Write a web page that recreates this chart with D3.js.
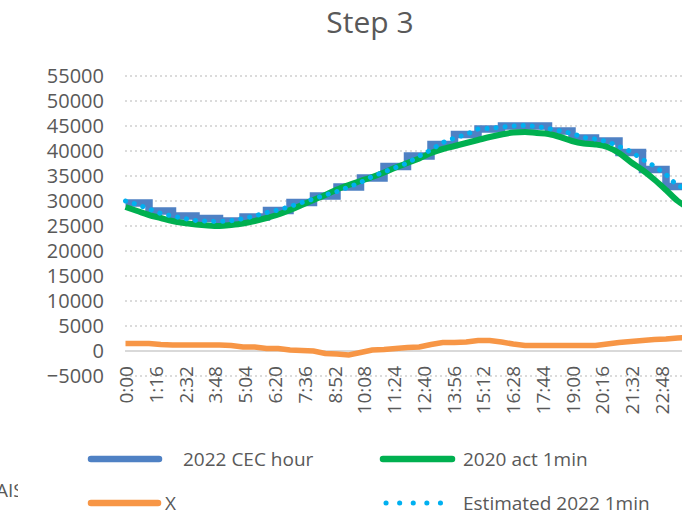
<!DOCTYPE html>
<html>
<head>
<meta charset="utf-8">
<script src="https://cdn.jsdelivr.net/npm/d3@7"></script>
<style>
  body { margin: 0; background: #fff; }
  svg { display: block; font-family: "Open Sans", sans-serif; }
</style>
</head>
<body>
<svg width="682" height="515"></svg>
<script>
// Minutes of the day sampled every 30 min for the 1-minute series
const halfHours = d3.range(0, 1441, 30)

// 2022 CEC hourly values (one per hour, step)
const hours = d3.range(0, 24)
const cecHour = [29600, 28000, 27000, 26500, 26000, 26800, 28100, 29700, 31000, 32800, 34600, 36900,
  39000, 41300, 43300, 44400, 45000, 45000, 44000, 42600, 42000, 39700, 36300, 32900]

// 2020 actual, 1 minute (read every 30 min)
const act2020 = [28800, 28000, 27200, 26600, 26000, 25600, 25300, 25100, 25000, 25200, 25500, 26000,
  26600, 27300, 28200, 29200, 30200, 31200, 32300, 33200, 34000, 34800, 35700, 36700,
  37600, 38500, 39600, 40400, 41000, 41600, 42200, 42800, 43300, 43700, 43800, 43600,
  43400, 42800, 42000, 41500, 41300, 40800, 39600, 37800, 36200, 34300, 32200, 30000, 28500]

// X series (read every 30 min)
const xSeries = [1500, 1500, 1500, 1300, 1200, 1200, 1200, 1200, 1200, 1100, 800, 800,
  500, 500, 200, 100, 0, -500, -600, -800, -300, 200, 300, 500,
  700, 800, 1300, 1700, 1700, 1800, 2100, 2100, 1800, 1400, 1100, 1100,
  1100, 1100, 1100, 1100, 1100, 1400, 1700, 1900, 2100, 2300, 2400, 2600, 2700]

// Estimated 2022, 1 minute (read every 30 min)
const est2022 = [30000, 29300, 28400, 27500, 27000, 26500, 26100, 25950, 25900, 26050, 26500, 27000,
  27700, 28200, 28900, 29700, 30400, 31200, 31900, 32800, 33700, 34900, 35800, 36700,
  37600, 39000, 40200, 41700, 42600, 43300, 44400, 44500, 44800, 45000, 45100, 44900,
  44500, 44000, 43500, 42700, 42400, 41900, 40900, 39900, 38300, 37000, 35300, 33000, 32500]

const yTicks = d3.range(-5000, 55001, 5000)
const xTickMinutes = d3.range(0, 1440, 76)
const fmtTime = m => `${Math.floor(m / 60)}:${String(m % 60).padStart(2, "0")}`

const svg = d3.select("svg")
const textColor = "#595959"

const x = d3.scaleLinear().domain([0, 1440]).range([125.5, 689.5])
const y = d3.scaleLinear().domain([-5000, 55000]).range([376, 76])

// Title
svg.append("text")
  .attr("x", 370).attr("y", 33)
  .attr("text-anchor", "middle")
  .attr("fill", textColor)
  .style("font-size", "30px")
  .text("Step 3")

// Gridlines
svg.append("g")
  .selectAll("line")
  .data(yTicks.filter(d => d !== 0))
  .join("line")
  .attr("x1", 125).attr("x2", 682)
  .attr("y1", d => y(d)).attr("y2", d => y(d))
  .attr("stroke", "#d0d0d0")
  .attr("stroke-width", 1.5)
  .attr("stroke-dasharray", "2 3")

// Zero (category axis) line
svg.append("line")
  .attr("x1", 125).attr("x2", 682)
  .attr("y1", y(0)).attr("y2", y(0))
  .attr("stroke", "#d9d9d9")
  .attr("stroke-width", 2)

// Y axis labels
const yAxis = svg.append("g")
  .attr("transform", "translate(104,0)")
  .call(d3.axisLeft(y).tickValues(yTicks).tickSize(0).tickPadding(0).tickFormat(d3.format("d")))
yAxis.select(".domain").remove()
yAxis.selectAll("text")
  .attr("fill", textColor)
  .style("font-size", "20px")
  .style("font-family", "Open Sans, sans-serif")

// X axis labels (rotated)
svg.append("g")
  .selectAll("text")
  .data(xTickMinutes)
  .join("text")
  .attr("transform", d => `translate(${x(d) + 1},366) rotate(-90)`)
  .attr("text-anchor", "end")
  .attr("dy", "0.35em")
  .attr("fill", textColor)
  .style("font-size", "19px")
  .text(fmtTime)

// Series
const line = d3.line().x(d => x(d[0])).y(d => y(d[1]))

const cecPoints = hours.map((h, i) => [h * 60, cecHour[i]])
cecPoints.push([1440, cecHour[cecHour.length - 1]])

svg.append("path")
  .datum(cecPoints)
  .attr("d", line.curve(d3.curveStepAfter))
  .attr("fill", "none")
  .attr("stroke", "#4f81c4")
  .attr("stroke-width", 7.5)

line.curve(d3.curveMonotoneX)

svg.append("path")
  .datum(halfHours.map((t, i) => [t, act2020[i]]))
  .attr("d", line)
  .attr("fill", "none")
  .attr("stroke", "#00b050")
  .attr("stroke-width", 6)

svg.append("path")
  .datum(halfHours.map((t, i) => [t, xSeries[i]]))
  .attr("d", d3.line().x(d => x(d[0])).y(d => y(d[1])))
  .attr("fill", "none")
  .attr("stroke", "#f79646")
  .attr("stroke-width", 5.5)

svg.append("path")
  .datum(halfHours.map((t, i) => [t, est2022[i]]))
  .attr("d", d3.line().x(d => x(d[0])).y(d => y(d[1])))
  .attr("fill", "none")
  .attr("stroke", "#00b0f0")
  .attr("stroke-width", 5)
  .attr("stroke-linecap", "round")
  .attr("stroke-dasharray", "0.1 9")

// Legend
const legend = [
  {name: "2022 CEC hour", color: "#4f81c4", x1: 91, x2: 159, tx: 183, y: 459, dots: false},
  {name: "2020 act 1min", color: "#00b050", x1: 383, x2: 452, tx: 463, y: 459, dots: false},
  {name: "X", color: "#f79646", x1: 91, x2: 158, tx: 165, y: 503, dots: false},
  {name: "Estimated 2022 1min", color: "#00b0f0", x1: 386, x2: 454, tx: 463, y: 503, dots: true}
]

const items = svg.append("g").selectAll("g").data(legend).join("g")
items.append("line")
  .attr("x1", d => d.x1).attr("x2", d => d.x2)
  .attr("y1", d => d.y).attr("y2", d => d.y)
  .attr("stroke", d => d.color)
  .attr("stroke-width", d => d.dots ? 5 : 6.5)
  .attr("stroke-linecap", "round")
  .attr("stroke-dasharray", d => d.dots ? "0.1 13.5" : null)
items.append("text")
  .attr("x", d => d.tx).attr("y", d => d.y + 7)
  .attr("fill", textColor)
  .style("font-size", "19px")
  .text(d => d.name)

// Cut-off text at the left edge
svg.append("clipPath").attr("id", "edge")
  .append("rect").attr("x", 0).attr("y", 470).attr("width", 18).attr("height", 40)
svg.append("text")
  .attr("clip-path", "url(#edge)")
  .attr("x", -4).attr("y", 497)
  .attr("fill", textColor)
  .style("font-size", "19px")
  .text("AIS")
</script>
</body>
</html>
